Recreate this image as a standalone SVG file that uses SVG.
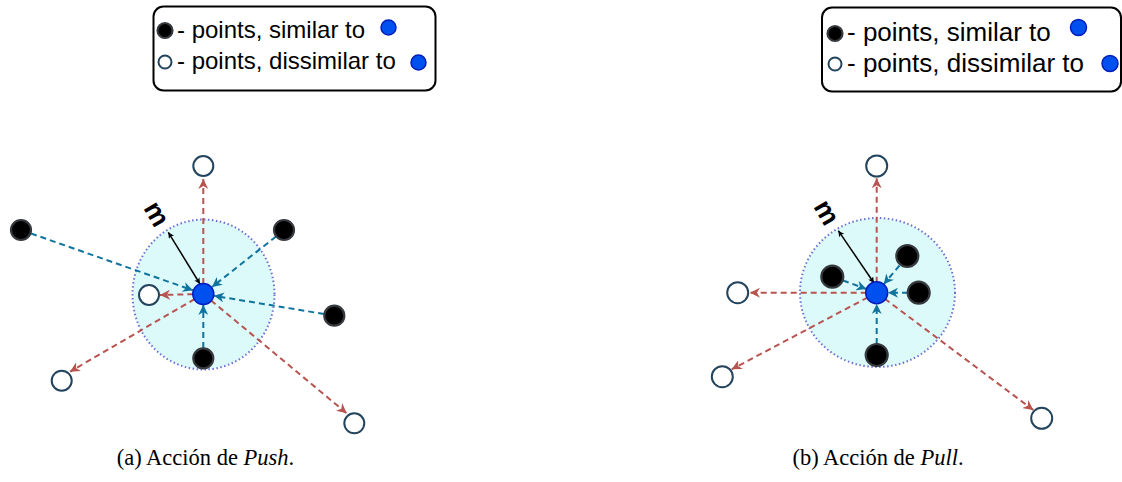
<svg xmlns="http://www.w3.org/2000/svg" width="1122" height="482" viewBox="0 0 1122 482">
<style>
.leg{fill:#fff;stroke:#000;stroke-width:2}
.lt{font-family:"Liberation Sans",Arial,sans-serif;fill:#000}
.cap{font-family:"Liberation Serif","Times New Roman",serif;font-size:22.5px;fill:#000}
.zone{fill:#dcfafa;stroke:#6f6fd0;stroke-width:2;stroke-dasharray:1.5 2.5}
.sim{fill:#000;stroke:#36393d;stroke-width:2.2}
.dis{fill:#fff;stroke:#23445d;stroke-width:2}
.ref{fill:#0050ef;stroke:#001dbc;stroke-width:1.5}
.push{fill:none;stroke:#b85450;stroke-width:2;stroke-dasharray:6 4;marker-end:url(#ar)}
.pull{fill:none;stroke:#10739e;stroke-width:2;stroke-dasharray:6 4;marker-end:url(#ab)}
.rad{fill:none;stroke:#000;stroke-width:1.5;marker-start:url(#ak);marker-end:url(#ak)}
.m{font-family:"Liberation Sans",Arial,sans-serif;font-size:27px;font-weight:bold;fill:#000}
</style>
<defs>
<marker id="ar" markerUnits="userSpaceOnUse" markerWidth="12" markerHeight="10" refX="10" refY="5" orient="auto"><path d="M0,0 L10,5 L0,10 L3,5 z" fill="#b85450"/></marker>
<marker id="ab" markerUnits="userSpaceOnUse" markerWidth="12" markerHeight="10" refX="10" refY="5" orient="auto"><path d="M0,0 L10,5 L0,10 L3,5 z" fill="#10739e"/></marker>
<marker id="ak" markerUnits="userSpaceOnUse" markerWidth="8" markerHeight="6" refX="6" refY="3" orient="auto-start-reverse"><path d="M0,0 L6,3 L0,6 L1.5,3 z" fill="#000"/></marker>
</defs>

<g id="legend-a">
<rect class="leg" x="153.5" y="6.5" width="282" height="84" rx="10"/>
<circle class="sim" cx="165" cy="30.5" r="7.5"/>
<text class="lt" x="177" y="38" font-size="24">- points, similar to</text>
<circle class="ref" cx="388.5" cy="27.5" r="7.5"/>
<circle class="dis" cx="165" cy="62" r="6.5"/>
<text class="lt" x="177" y="69" font-size="24">- points, dissimilar to</text>
<circle class="ref" cx="418.5" cy="62.5" r="7.5"/>
</g>

<g id="legend-b">
<rect class="leg" x="822" y="7.5" width="299" height="84" rx="10"/>
<circle class="sim" cx="835" cy="33.5" r="7.5"/>
<text class="lt" x="847" y="40.5" font-size="26">- points, similar to</text>
<circle class="ref" cx="1078.5" cy="27.5" r="8"/>
<circle class="dis" cx="835" cy="64" r="6.5"/>
<text class="lt" x="847" y="72" font-size="26">- points, dissimilar to</text>
<circle class="ref" cx="1110" cy="63.5" r="8"/>
</g>

<g id="zone-a"><ellipse class="zone" cx="203.5" cy="294.5" rx="71" ry="75"/></g>
<g id="zone-b"><ellipse class="zone" cx="877.5" cy="292.5" rx="77.5" ry="74.5"/></g>

<g id="connectors">
<path class="push" d="M203.3,294 L203.3,179"/>
<path class="push" d="M203.3,294 L160,295"/>
<path class="push" d="M203.3,294 L70,371.7"/>
<path class="push" d="M203.3,294 L346.7,413.3"/>
<path class="pull" d="M31,233.5 L192.9,290.3"/>
<path class="pull" d="M276,236.5 L212,287"/>
<path class="pull" d="M324,314 L214,295.8"/>
<path class="pull" d="M203.3,348 L203.3,305"/>
<path class="rad" d="M168.3,232.3 L200,284"/>

<path class="push" d="M876.7,292.7 L876.7,178.3"/>
<path class="push" d="M876.7,292.7 L750,292.7"/>
<path class="push" d="M876.7,292.7 L731.7,369.3"/>
<path class="push" d="M876.7,292.7 L1033.3,410"/>
<path class="pull" d="M843,280.5 L866.4,289"/>
<path class="pull" d="M899.5,265.5 L883.7,284.3"/>
<path class="pull" d="M908,292.7 L888,292.7"/>
<path class="pull" d="M876.7,344 L876.7,304"/>
<path class="rad" d="M838.3,230.7 L874,283"/>
</g>

<g id="label-m-a"><text class="m" x="156.7" y="214" text-anchor="middle" dominant-baseline="central" transform="rotate(60 156.7 214)">m</text></g>
<g id="label-m-b"><text class="m" x="826.7" y="212.5" text-anchor="middle" dominant-baseline="central" transform="rotate(60 826.7 212.5)">m</text></g>

<g id="a-dis-top"><circle class="dis" cx="203.3" cy="166" r="10"/></g>
<g id="a-dis-left"><circle class="dis" cx="149" cy="295" r="10"/></g>
<g id="a-dis-bl"><circle class="dis" cx="61.7" cy="380.7" r="10"/></g>
<g id="a-dis-br"><circle class="dis" cx="354.3" cy="423.3" r="10"/></g>
<g id="a-sim-tl"><circle class="sim" cx="21" cy="230" r="10"/></g>
<g id="a-sim-tr"><circle class="sim" cx="284" cy="230" r="10"/></g>
<g id="a-sim-r"><circle class="sim" cx="334.3" cy="315.7" r="10"/></g>
<g id="a-sim-b"><circle class="sim" cx="203.3" cy="358.3" r="10"/></g>
<g id="a-center"><circle class="ref" cx="203.3" cy="294" r="10.5"/></g>

<g id="b-dis-top"><circle class="dis" cx="876.7" cy="166" r="10.5"/></g>
<g id="b-dis-left"><circle class="dis" cx="737.7" cy="292.7" r="10.5"/></g>
<g id="b-dis-bl"><circle class="dis" cx="722.3" cy="376.7" r="10.5"/></g>
<g id="b-dis-br"><circle class="dis" cx="1041.7" cy="418.3" r="10.5"/></g>
<g id="b-sim-tr"><circle class="sim" cx="907.3" cy="256" r="11"/></g>
<g id="b-sim-l"><circle class="sim" cx="832.3" cy="276.7" r="11"/></g>
<g id="b-sim-r"><circle class="sim" cx="918.7" cy="292.7" r="11"/></g>
<g id="b-sim-b"><circle class="sim" cx="876.7" cy="355" r="11"/></g>
<g id="b-center"><circle class="ref" cx="876.7" cy="292.7" r="11"/></g>

<g id="caption-a"><text class="cap" x="205.5" y="465" text-anchor="middle">(a) Acción de <tspan font-style="italic">Push</tspan>.</text></g>
<g id="caption-b"><text class="cap" x="878" y="465" text-anchor="middle">(b) Acción de <tspan font-style="italic">Pull</tspan>.</text></g>
</svg>
